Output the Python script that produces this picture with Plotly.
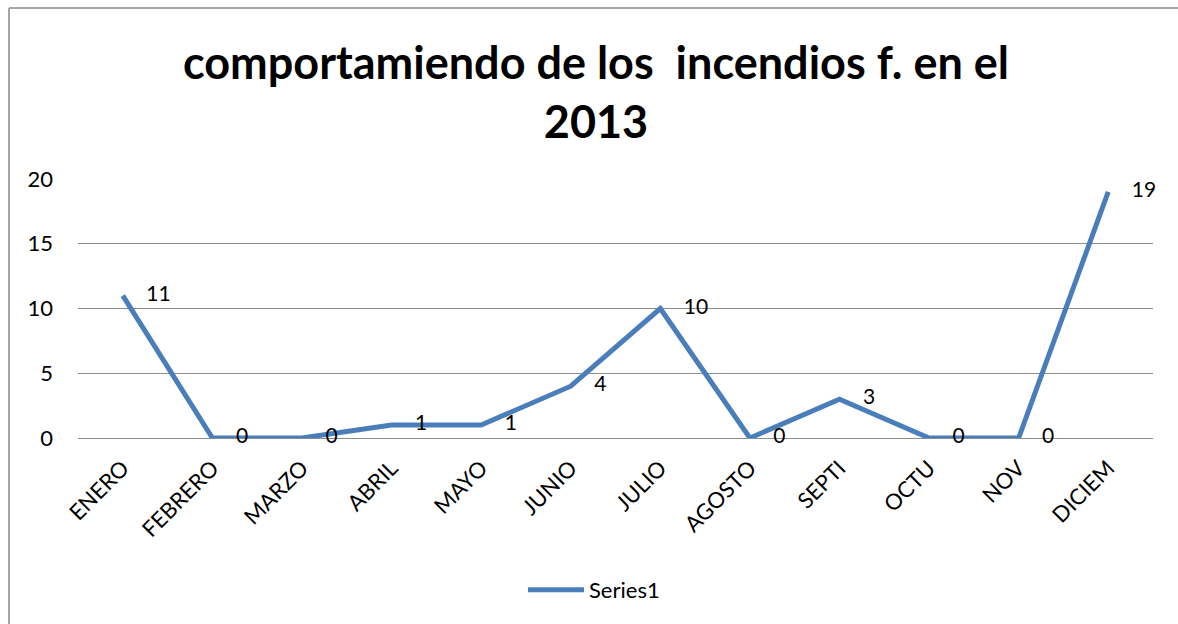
import plotly.graph_objects as go

months = ["ENERO", "FEBRERO", "MARZO", "ABRIL", "MAYO", "JUNIO", "JULIO",
          "AGOSTO", "SEPTI", "OCTU", "NOV", "DICIEM"]
values = [11, 0, 0, 1, 1, 4, 10, 0, 3, 0, 0, 19]
series_name = "Series1"
title_text = "comportamiendo de los  incendios f. en el<br>2013"

FONT = "Lato"
BLUE = "#4A7EBB"
GRID = "#8C8C8C"

L, R, T, B = 78, 25, 179, 186
W, H = 1178, 624
pw, ph = W - L - R, H - T - B

fig = go.Figure()
fig.add_trace(go.Scatter(
    x=months, y=values, mode="lines", name=series_name,
    line=dict(color=BLUE, width=5), showlegend=True, cliponaxis=False,
))
fig.add_trace(go.Scatter(
    x=months, y=values, mode="markers+text", text=[str(v) for v in values],
    textposition="middle right", textfont=dict(family=FONT, size=21, color="black"),
    marker=dict(size=36, color="rgba(0,0,0,0)"), showlegend=False, hoverinfo="skip",
    cliponaxis=False,
))

def px2x(px):
    return (px - L) / pw

def py2y(py):
    return (H - B - py) / ph

border = dict(color="#A6A6A6", width=2)
fig.add_shape(type="line", xref="paper", yref="paper",
              x0=px2x(9), x1=px2x(W + 5), y0=py2y(8), y1=py2y(8), line=border)
fig.add_shape(type="line", xref="paper", yref="paper",
              x0=px2x(9), x1=px2x(9), y0=py2y(8), y1=py2y(H + 5), line=border)

fig.update_layout(
    width=W, height=H,
    margin=dict(l=L, r=R, t=T, b=B, autoexpand=False),
    paper_bgcolor="white", plot_bgcolor="white",
    font=dict(family=FONT, color="black"),
    title=dict(text=title_text, x=596 / W, xanchor="center",
               y=1 - 79 / H, yanchor="top",
               font=dict(family=FONT, size=45, color="black", weight="bold")),
    legend=dict(orientation="h", x=px2x(594), xanchor="center",
                y=py2y(590), yanchor="middle", font=dict(family=FONT, size=22),
                itemwidth=56),
    xaxis=dict(type="category", range=[-0.5, len(months) - 0.5], tickangle=-45,
               tickfont=dict(family=FONT, size=22), automargin=False,
               showgrid=False, showline=False, zeroline=False, ticks="",
               ticklabelstandoff=12),
    yaxis=dict(range=[0, 20], dtick=5, tickfont=dict(family=FONT, size=22),
               automargin=False,
               showgrid=True, gridcolor=GRID, gridwidth=1, zeroline=True,
               zerolinecolor=GRID, zerolinewidth=1, showline=False,
               ticklabelstandoff=24),
)

fig.write_html("out.html", config={"displayModeBar": False},
               post_script="document.body.style.margin='0';document.body.style.overflow='hidden';")
